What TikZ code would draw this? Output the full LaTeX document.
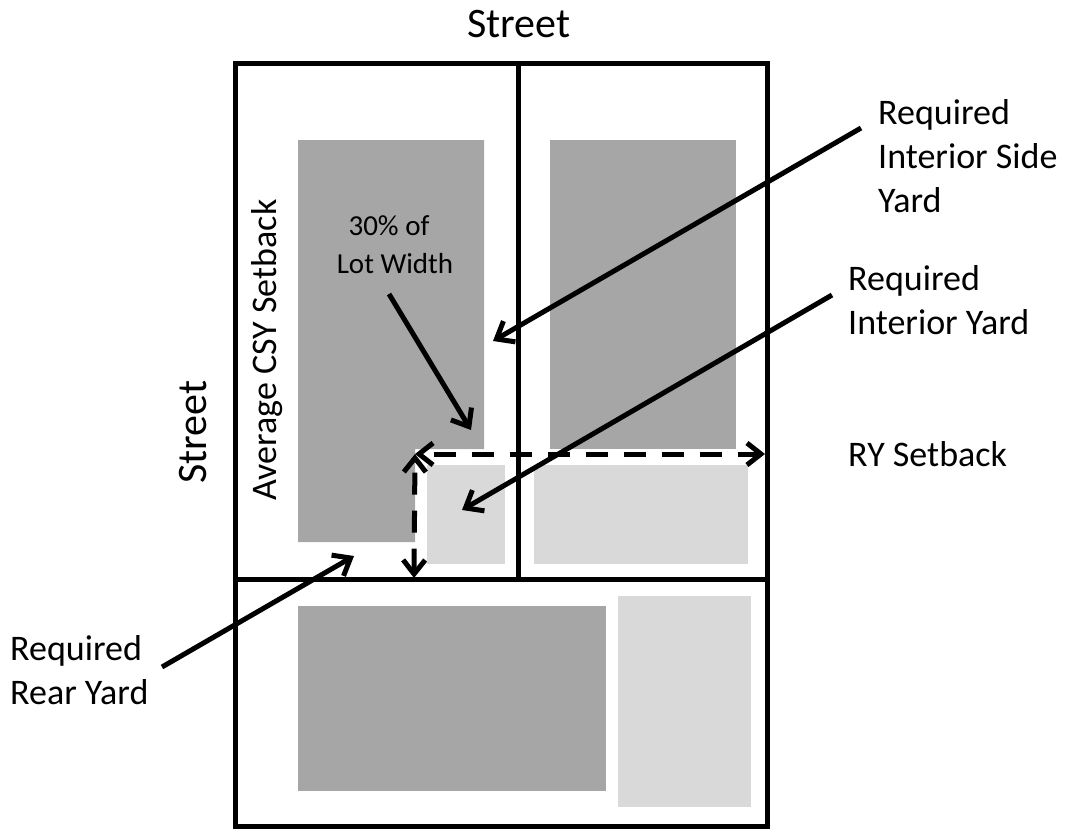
\documentclass[tikz,border=0pt]{standalone}
\usepackage{fontspec}
\setmainfont{Carlito}
\usepackage{tikz}
\usetikzlibrary{positioning,arrows.meta,calc}
\begin{document}
\begin{tikzpicture}[
    x=1pt, y=-1pt,
    lot/.style={draw=black, line width=5pt, fill=none},
    bldg/.style={fill=black!35, draw=none},
    yard/.style={fill=black!15, draw=none},
    pointer/.style={-{Straight Barb[length=15pt,width=24pt]}, line width=5pt, black},
    setback/.style={{Straight Barb[length=14pt,width=22pt]}-{Straight Barb[length=14pt,width=22pt]}, line width=5pt, dash pattern=on 22pt off 16pt, dash phase=26pt, black},
    label/.style={font=\fontsize{36}{44}\selectfont, align=left, anchor=west, inner sep=0pt},
    streetlabel/.style={font=\fontsize{42}{50}\selectfont, anchor=center, inner sep=0pt}
]
    \useasboundingbox (0,0) rectangle (1065,830);
    % buildings and yards
    \fill[bldg] (298,140) -- (484,140) -- (484,449) -- (415,449) -- (415,542) -- (298,542) -- cycle;
    \fill[bldg] (550,140) rectangle (736,449);
    \fill[bldg] (298,606) rectangle (606,791);
    \fill[yard] (427,465) rectangle (505,564);
    \fill[yard] (534,465) rectangle (748,564);
    \fill[yard] (618,596) rectangle (751,807);
    % lots
    \draw[lot] (235,63) rectangle (767,826);
    \draw[lot] (235,579) -- (767,579);
    \draw[lot] (518,63) -- (518,579);
    % labels
    \node[streetlabel] (streettop) at (519,24) {Street};
    \node[streetlabel, rotate=90] (streetleft) at (193,432) {Street};
    \node[label, anchor=center, rotate=90] (csy) at (267,350) {Average CSY Setback};
    \node[label, font=\fontsize{29}{38}\selectfont, anchor=center, align=center] (lotwidth) at (395,245) {\hspace*{-12pt}30\% of\\Lot Width};
    \node[label] (sideyard) at (878,156) {Required\\Interior Side\\Yard};
    \node[label] (intyard) at (848,300) {Required\\Interior Yard};
    \node[label] (rysetback) at (848,454) {RY Setback};
    \node[label] (rearyard) at (10,670) {Required\\Rear Yard};
    % pointers
    \coordinate (sideend) at (861,128);
    \coordinate (sidetip) at (493,341);
    \coordinate (intend) at (832,295);
    \coordinate (inttip) at (462,510);
    \coordinate (rearend) at (162,667);
    \coordinate (reartip) at (354,556);
    \coordinate (widthend) at (389,294);
    \coordinate (widthtip) at (471,430);
    \draw[pointer] (sideend) -- (sidetip);
    \draw[pointer] (intend) -- (inttip);
    \draw[pointer] (rearend) -- (reartip);
    \draw[pointer] (widthend) -- (widthtip);
    % setback dimensions
    \coordinate (rya) at (415,454);
    \coordinate (ryb) at (765,454);
    \coordinate (ryc) at (414,578);
    \draw[setback] (rya) -- (ryb);
    \draw[setback] (rya) -- (ryc);
\end{tikzpicture}
\end{document}
